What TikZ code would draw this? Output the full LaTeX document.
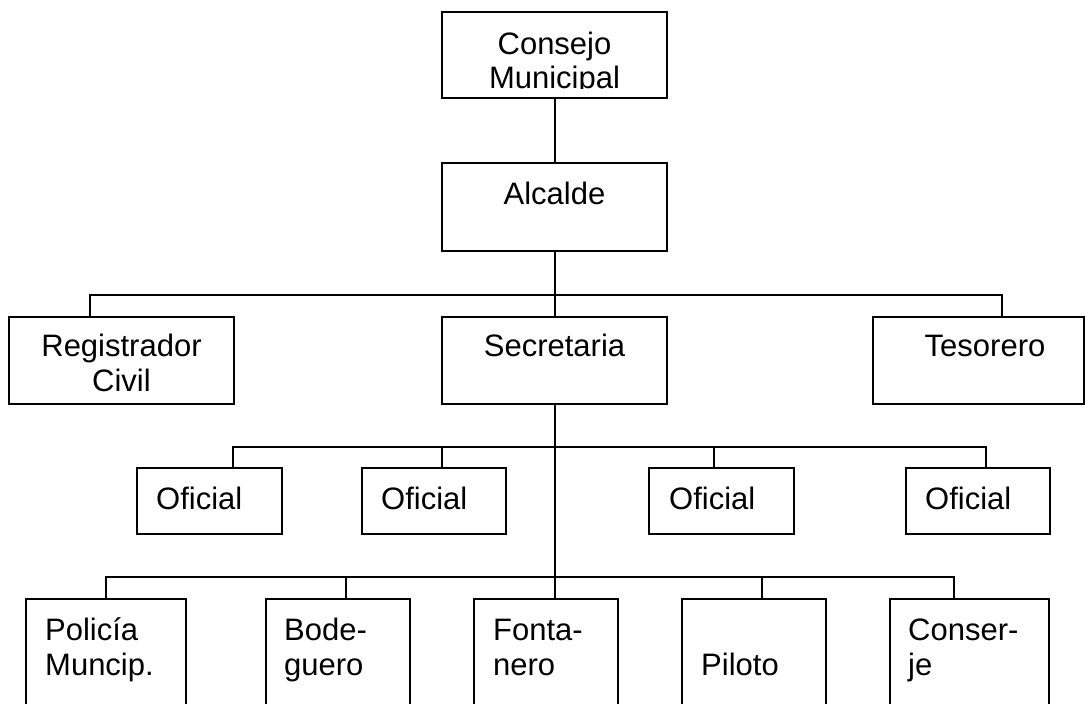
\documentclass[tikz,border=0pt]{standalone}
\usepackage{fontspec}
\setmainfont{Liberation Sans}
\begin{document}
\begin{tikzpicture}[x=1pt,y=-1pt,
  box/.style={draw, line width=2pt, inner sep=0pt, outer sep=0pt},
  con/.style={line width=2pt, line join=miter},
  txt/.style={font=\fontsize{31}{34}\selectfont, inner sep=0pt, text=black}]
\clip (0,0) rectangle (1085,704);
\fill[white] (0,0) rectangle (1085,704);
% boxes
\node[box, minimum width=225pt, minimum height=85.5pt] (cm) at (554.5,54.75) {};
\node[box, minimum width=225pt, minimum height=88pt] (al) at (554.5,207) {};
\node[box, minimum width=225pt, minimum height=87pt] (rc) at (121.5,360.5) {};
\node[box, minimum width=225pt, minimum height=87pt] (se) at (554.5,360.5) {};
\node[box, minimum width=210.5pt, minimum height=87pt] (te) at (978.25,360.5) {};
\node[box, minimum width=145pt, minimum height=66pt] (of1) at (209.5,501) {};
\node[box, minimum width=144pt, minimum height=66pt] (of2) at (434,501) {};
\node[box, minimum width=145pt, minimum height=66pt] (of3) at (721.5,501) {};
\node[box, minimum width=144pt, minimum height=66pt] (of4) at (978,501) {};
\node[box, minimum width=160pt, minimum height=130pt] (po) at (106,664) {};
\node[box, minimum width=144pt, minimum height=130pt] (bo) at (338,664) {};
\node[box, minimum width=144pt, minimum height=130pt] (fo) at (546,664) {};
\node[box, minimum width=144pt, minimum height=130pt] (pi) at (754,664) {};
\node[box, minimum width=159pt, minimum height=130pt] (co) at (969.5,664) {};
% junction coordinates
\coordinate (h1L) at (90,294.5);
\coordinate (h1R) at (1002,294.5);
\coordinate (o1) at (233,446.7);
\coordinate (o2) at (442,446.7);
\coordinate (o3) at (714,446.7);
\coordinate (o4) at (986,446.7);
\coordinate (b1) at (106,576.7);
\coordinate (b2) at (346,576.7);
\coordinate (b3) at (554.5,576.7);
\coordinate (b4) at (762,576.7);
\coordinate (b5) at (954,576.7);
% connectors
\draw[con] (cm.south) -- (al.north);
\draw[con] (al.south) -- (se.north);
\draw[con] (h1L |- rc.north) -- (h1L) -- (h1R) -- (h1R |- te.north);
\draw[con] (se.south) -- (b3) -- (b3 |- fo.north);
\draw[con] (o1 |- of1.north) -- (o1) -- (o4) -- (o4 |- of4.north);
\draw[con] (o2) -- (o2 |- of2.north);
\draw[con] (o3) -- (o3 |- of3.north);
\draw[con] (b1 |- po.north) -- (b1) -- (b5) -- (b5 |- co.north);
\draw[con] (b2) -- (b2 |- bo.north);
\draw[con] (b4) -- (b4 |- pi.north);
% texts
\node[txt, anchor=base] (t1) at (554.5,54.7) {Consejo};
\begin{scope}
\clip (443,13) rectangle (666,88.5);
\node[txt, anchor=base] (t2) at (554.5,88.5) {Municipal};
\end{scope}
\node[txt, anchor=base] (t3) at (554.5,204) {Alcalde};
\node[txt, anchor=base] (t4) at (121.5,356) {Registrador};
\node[txt, anchor=base] (t5) at (121.5,391) {Civil};
\node[txt, anchor=base] (t6) at (554.5,356) {Secretaria};
\node[txt, anchor=base] (t7) at (985,356) {Tesorero};
\node[txt, anchor=base west] (t8) at (156,509) {Oficial};
\node[txt, anchor=base west] (t9) at (381,509) {Oficial};
\node[txt, anchor=base west] (t10) at (669,509) {Oficial};
\node[txt, anchor=base west] (t11) at (925,509) {Oficial};
\node[txt, anchor=base west] (t12) at (45,640.7) {Policía};
\node[txt, anchor=base west] (t13) at (45,675) {Muncip.};
\node[txt, anchor=base west] (t14) at (284,640.7) {Bode-};
\node[txt, anchor=base west] (t15) at (284,675) {guero};
\node[txt, anchor=base west] (t16) at (493,640.7) {Fonta-};
\node[txt, anchor=base west] (t17) at (493,675) {nero};
\node[txt, anchor=base west] (t18) at (701,675) {Piloto};
\node[txt, anchor=base west] (t19) at (908,640.7) {Conser-};
\node[txt, anchor=base west] (t20) at (908,675) {je};
\end{tikzpicture}
\end{document}
